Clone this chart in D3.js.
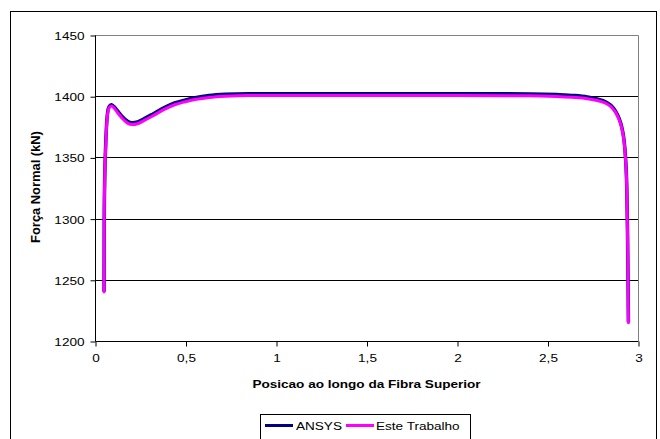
<!DOCTYPE html>
<html>
<head>
<meta charset="utf-8">
<script src="https://cdn.jsdelivr.net/npm/d3@7"></script>
<style>
  html, body { margin: 0; padding: 0; background: #fff; }
  svg { display: block; font-family: "Liberation Sans", Arial, sans-serif; }
</style>
</head>
<body>
<svg id="chart" width="660" height="439"></svg>
<script>
// Normal force along the upper fibre: ANSYS model vs. this work
const yTicks = [1200, 1250, 1300, 1350, 1400, 1450];
const xTicks = [0, 0.5, 1, 1.5, 2, 2.5, 3];

const ansysX = [0.050, 0.051, 0.054, 0.058, 0.063, 0.069, 0.078, 0.090, 0.105, 0.125, 0.150, 0.180, 0.205, 0.235,
                0.270, 0.320, 0.380, 0.440, 0.500, 0.560, 0.630, 0.720, 0.850, 1.000, 1.500, 2.000, 2.400, 2.550,
                2.650, 2.720, 2.780, 2.820, 2.850, 2.875, 2.895, 2.910, 2.922, 2.931, 2.938, 2.942, 2.945, 2.947];
const ansysY = [1241, 1300, 1335, 1356, 1374, 1386, 1391.5, 1393, 1391.5, 1388, 1383.5, 1379.5, 1378.3, 1379,
                1381.5, 1385.5, 1390.5, 1394.5, 1397, 1399, 1400.5, 1401.5, 1402, 1402, 1402, 1402, 1401.8, 1401.3,
                1400.5, 1399.3, 1397.5, 1395.5, 1392.5, 1388, 1382, 1375, 1365, 1350, 1325, 1290, 1250, 1216];

const esteX = [0.050, 0.051, 0.054, 0.058, 0.063, 0.069, 0.078, 0.090, 0.105, 0.125, 0.150, 0.180, 0.205, 0.235,
               0.270, 0.320, 0.380, 0.440, 0.500, 0.560, 0.630, 0.720, 0.850, 1.000, 1.500, 2.000, 2.400, 2.550,
               2.650, 2.720, 2.780, 2.820, 2.850, 2.875, 2.895, 2.910, 2.922, 2.931, 2.938, 2.942, 2.945, 2.947];
const esteY = [1240, 1300, 1335, 1355, 1373, 1385, 1390.5, 1392, 1390.5, 1386.5, 1382, 1378, 1376.8, 1377.5,
               1380, 1384, 1389, 1393, 1395.5, 1397.5, 1399, 1400, 1400.5, 1400.5, 1400.5, 1400.5, 1400.3, 1399.7,
               1399, 1398, 1396.3, 1394.3, 1391.5, 1387, 1381, 1374, 1364, 1349, 1324, 1289, 1249, 1215];

const seriesNames = ["ANSYS", "Este Trabalho"];
const seriesColors = ["#000080", "#FF00FF"];

// text is set slightly wide, as in the printed figure
const STRETCH = 1.18;
const FONT = '"Liberation Sans", Arial, sans-serif';

const svg = d3.select("#chart");
const plot = { left: 95, right: 638, top: 35, bottom: 341 };

const x = d3.scaleLinear().domain([0, 3]).range([plot.left, plot.right]);
const y = d3.scaleLinear().domain([1200, 1450]).range([plot.bottom, plot.top]);

// outer chart frame
svg.append("rect")
  .attr("x", 10.5).attr("y", 11.5)
  .attr("width", 646).attr("height", 460)
  .attr("fill", "#fff").attr("stroke", "#000").attr("stroke-width", 1);

// horizontal gridlines
svg.append("g")
  .selectAll("line")
  .data(yTicks.filter(v => v > 1200 && v < 1450))
  .join("line")
  .attr("x1", plot.left).attr("x2", plot.right)
  .attr("y1", d => Math.round(y(d)) + 0.5).attr("y2", d => Math.round(y(d)) + 0.5)
  .attr("stroke", "#000").attr("stroke-width", 1);

// plot area border (top and right)
svg.append("path")
  .attr("d", `M${plot.left},${plot.top + 0.5}H${plot.right + 0.5}V${plot.bottom}`)
  .attr("fill", "none").attr("stroke", "#808080").attr("stroke-width", 1);

// axes
const fmt = d => String(d).replace(".", ",");
const yAxis = d3.axisLeft(y).tickValues(yTicks).tickSize(5).tickPadding(0).tickFormat(d => d);
const xAxis = d3.axisBottom(x).tickValues(xTicks).tickSize(5).tickPadding(0).tickFormat(fmt);

const gy = svg.append("g").attr("transform", `translate(${plot.left + 0.5},0.5)`).call(yAxis);
const gx = svg.append("g").attr("transform", `translate(0.5,${plot.bottom + 0.5})`).call(xAxis);
[gx, gy].forEach(g => {
  g.select(".domain").attr("stroke", "#000").attr("d",
    g === gx ? `M${plot.left},0H${plot.right}` : `M0,${plot.top}V${plot.bottom}`);
  g.selectAll(".tick line").attr("stroke", "#000");
  g.selectAll(".tick text").attr("fill", "#000")
    .style("font-family", FONT).style("font-size", "11.5px");
});
gy.selectAll(".tick text")
  .attr("x", null).attr("dy", null).attr("y", 4)
  .attr("transform", `translate(-11,0) scale(${STRETCH},1)`);
gx.selectAll(".tick text")
  .attr("y", null).attr("dy", null)
  .attr("transform", `translate(0,20) scale(${STRETCH},1)`);

// axis titles
svg.append("text")
  .attr("transform", `translate(${(plot.left + plot.right) / 2},388) scale(${STRETCH},1)`)
  .attr("text-anchor", "middle")
  .style("font-size", "11.5px").style("font-weight", "bold")
  .text("Posicao ao longo da Fibra Superior");

svg.append("text")
  .attr("transform", "translate(40,187) rotate(-90)")
  .attr("text-anchor", "middle")
  .style("font-size", "12.9px").style("font-weight", "bold")
  .text("Força Normal (kN)");

// series lines
const line = d3.line().x(d => x(d[0])).y(d => y(d[1])).curve(d3.curveMonotoneX);
const series = [
  d3.zip(ansysX, ansysY),
  d3.zip(esteX, esteY)
];
svg.append("g")
  .selectAll("path")
  .data(series)
  .join("path")
  .attr("d", line)
  .attr("fill", "none")
  .attr("stroke", (d, i) => seriesColors[i])
  .attr("stroke-width", (d, i) => i === 0 ? 3.5 : 3)
  .attr("stroke-linejoin", "round")
  .attr("stroke-linecap", "round");

// legend
const legend = svg.append("g");
legend.append("rect")
  .attr("x", 260.5).attr("y", 414.5).attr("width", 210).attr("height", 40)
  .attr("fill", "#fff").attr("stroke", "#000");
const legendItems = [
  { name: seriesNames[0], color: seriesColors[0], x0: 265, x1: 293, tx: 296 },
  { name: seriesNames[1], color: seriesColors[1], x0: 346, x1: 374, tx: 376 }
];
legendItems.forEach(it => {
  legend.append("line")
    .attr("x1", it.x0).attr("x2", it.x1).attr("y1", 425.5).attr("y2", 425.5)
    .attr("stroke", it.color).attr("stroke-width", 3);
  legend.append("text")
    .attr("transform", `translate(${it.tx},429.5) scale(${STRETCH},1)`)
    .style("font-size", "11.5px")
    .text(it.name);
});
</script>
</body>
</html>
